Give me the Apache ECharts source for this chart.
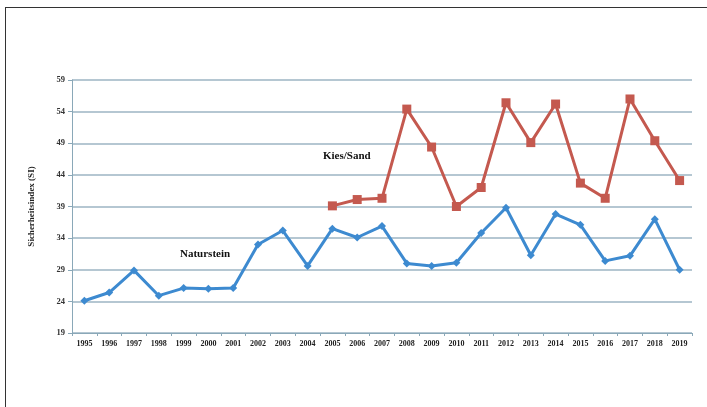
<!DOCTYPE html>
<html>
<head>
<meta charset="utf-8">
<script src="https://cdn.jsdelivr.net/npm/echarts@6/dist/echarts.min.js"></script>
<style>
html,body{margin:0;padding:0;background:#fff;}
#frame{position:absolute;left:5px;top:7px;width:702px;height:400px;border-top:1.5px solid #333;border-left:1.5px solid #333;box-sizing:border-box;}
#chart{position:absolute;left:0;top:0;width:707px;height:407px;}
</style>
</head>
<body>
<div id="frame"></div>
<div id="chart"></div>
<script>
const years = ['1995','1996','1997','1998','1999','2000','2001','2002','2003','2004','2005','2006','2007','2008','2009','2010','2011','2012','2013','2014','2015','2016','2017','2018','2019'];
const naturstein = [24.1,25.4,28.9,24.9,26.1,26.0,26.1,33.0,35.2,29.6,35.5,34.1,35.9,30.0,29.6,30.1,34.8,38.8,31.3,37.8,36.1,30.4,31.2,37.0,29.0];
const kiesSand = [null,null,null,null,null,null,null,null,null,null,39.1,40.1,40.3,54.4,48.4,39.0,42.0,55.4,49.1,55.2,42.7,40.3,56.0,49.4,43.1];
const yTicks = [19,24,29,34,39,44,49,54,59];
const yAxisName = 'Sicherheitsindex (SI)';
const seriesNames = ['Naturstein','Kies/Sand'];

const chart = echarts.init(document.getElementById('chart'));
const serif = '"Liberation Serif","DejaVu Serif",serif';
chart.setOption({
  backgroundColor: 'transparent',
  animation: false,
  grid: {left: 72, right: 15, top: 80, bottom: 74},
  xAxis: {
    type: 'category',
    data: years,
    boundaryGap: true,
    axisLine: {lineStyle: {color: '#8aa8b8', width: 1}},
    axisTick: {show: true, length: 3, lineStyle: {color: '#8aa8b8'}},
    axisLabel: {color: '#222', fontFamily: serif, fontWeight: 'bold', fontSize: 8, margin: 7, interval: 0}
  },
  yAxis: {
    type: 'value',
    min: yTicks[0],
    max: yTicks[yTicks.length - 1],
    interval: 5,
    name: yAxisName,
    nameLocation: 'middle',
    nameGap: 36,
    nameTextStyle: {color: '#222', fontFamily: serif, fontWeight: 'bold', fontSize: 9},
    axisLine: {show: true, lineStyle: {color: '#8aa8b8', width: 1}},
    axisTick: {show: true, length: 4, lineStyle: {color: '#8aa8b8'}},
    axisLabel: {color: '#333', fontFamily: serif, fontWeight: 'bold', fontSize: 8.5, margin: 7},
    splitLine: {show: true, lineStyle: {color: '#9db5c3', width: 1.5}}
  },
  series: [
    {
      name: seriesNames[0],
      type: 'line',
      data: naturstein,
      symbol: 'diamond',
      symbolSize: 8,
      lineStyle: {color: '#3d8ad0', width: 3},
      itemStyle: {color: '#3d8ad0'}
    },
    {
      name: seriesNames[1],
      type: 'line',
      data: kiesSand,
      symbol: 'rect',
      symbolSize: 9,
      lineStyle: {color: '#c4594f', width: 3},
      itemStyle: {color: '#c4594f'}
    }
  ],
  graphic: [
    {type: 'text', left: 180, top: 249, style: {text: seriesNames[0], font: 'bold 11px ' + serif, fill: '#111'}},
    {type: 'text', left: 323, top: 151, style: {text: seriesNames[1], font: 'bold 11px ' + serif, fill: '#111'}}
  ]
});
</script>
</body>
</html>
